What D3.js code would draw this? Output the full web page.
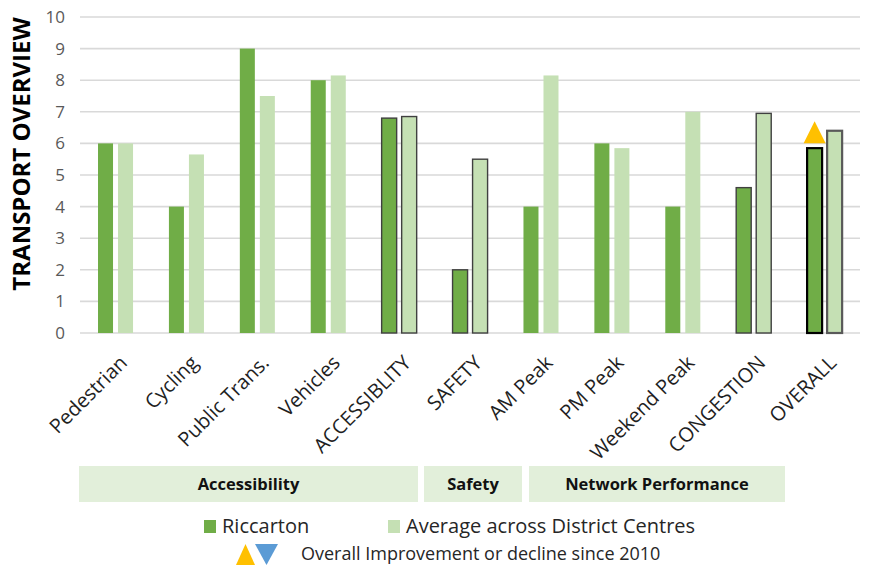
<!DOCTYPE html>
<html>
<head>
<meta charset="utf-8">
<script src="https://cdn.jsdelivr.net/npm/d3@7"></script>
<style>
  body { margin: 0; background: #fff; }
  svg { display: block; font-family: 'Open Sans', sans-serif; }
</style>
</head>
<body>
<svg id="chart" width="870" height="567"></svg>
<script>
var categories = ['Pedestrian', 'Cycling', 'Public Trans.', 'Vehicles', 'ACCESSIBLITY',
  'SAFETY', 'AM Peak', 'PM Peak', 'Weekend Peak', 'CONGESTION', 'OVERALL']
var riccarton = [6, 4, 9, 8, 6.8, 2, 4, 6, 4, 4.6, 5.85]
var districtAvg = [6, 5.65, 7.5, 8.15, 6.85, 5.5, 8.15, 5.85, 7, 6.95, 6.4]
var seriesNames = ['Riccarton', 'Average across District Centres']
var yTicks = [0, 1, 2, 3, 4, 5, 6, 7, 8, 9, 10]
// summary bars get an outline
var outlined = ['ACCESSIBLITY', 'SAFETY', 'CONGESTION', 'OVERALL']
var groupNames = ['Accessibility', 'Safety', 'Network Performance']
var improvement = [{category: 'OVERALL', dir: 'up'}]

var colors = {Riccarton: '#70ad47', 'Average across District Centres': '#c5e0b4'}

var svg = d3.select('#chart')
var margin = {left: 80, right: 10, top: 17, bottom: 234}
var width = 870, height = 567

var x0 = d3.scaleBand().domain(categories).range([margin.left, width - margin.right])
var step = x0.bandwidth()
var x1 = d3.scaleBand().domain(seriesNames)
  .range([step * 0.254, step * 0.748]).paddingInner(0.25)
var y = d3.scaleLinear().domain([0, 10]).range([height - margin.bottom, margin.top])

// gridlines
svg.append('g').selectAll('line').data(yTicks).join('line')
  .attr('x1', margin.left).attr('x2', width - margin.right)
  .attr('y1', d => y(d)).attr('y2', d => y(d))
  .attr('stroke', '#d9d9d9').attr('stroke-width', 1.6)

// y tick labels
svg.append('g').selectAll('text').data(yTicks).join('text')
  .attr('x', 65).attr('y', d => y(d)).attr('dy', '0.35em')
  .attr('text-anchor', 'end')
  .attr('fill', '#595959').style('font-size', '17px')
  .text(d => d)

svg.append('text')
  .attr('transform', `translate(30,${(y(0) + y(10)) / 2 - 21}) rotate(-90)`)
  .attr('text-anchor', 'middle')
  .style('font-size', '24px').style('font-weight', 700).attr('fill', '#000')
  .text('TRANSPORT OVERVIEW')

var rows = categories.map((c, i) => ({
  category: c,
  values: [{key: seriesNames[0], value: riccarton[i]}, {key: seriesNames[1], value: districtAvg[i]}]
}))

var groups = svg.append('g').selectAll('g').data(rows).join('g')
  .attr('transform', d => `translate(${x0(d.category)},0)`)

groups.selectAll('rect').data(d => d.values.map(v => Object.assign({category: d.category}, v))).join('rect')
  .attr('x', d => x1(d.key))
  .attr('width', x1.bandwidth())
  .attr('y', d => y(d.value))
  .attr('height', d => y(0) - y(d.value))
  .attr('fill', d => colors[d.key])
  .attr('stroke', d => {
    if (!outlined.includes(d.category)) return 'none'
    if (d.category == 'OVERALL') return d.key == 'Riccarton' ? '#000' : '#595959'
    return '#404040'
  })
  .attr('stroke-width', d => d.category == 'OVERALL' ? 2.2 : 1.4)

// improvement marker
improvement.forEach(m => {
  var i = categories.indexOf(m.category)
  var cx = x0(m.category) + x1('Riccarton') + x1.bandwidth() / 2
  var base = y(riccarton[i]) - 5
  svg.append('path')
    .attr('d', `M${cx - 11},${base} L${cx + 11},${base} L${cx},${base - 22} Z`)
    .attr('fill', '#ffc000')
})

// x labels
svg.append('g').selectAll('text').data(categories).join('text')
  .attr('transform', d => `translate(${x0(d) + step / 2 + 3},${y(0) + 21}) rotate(-45)`)
  .attr('text-anchor', 'end')
  .attr('dy', '0.71em')
  .attr('fill', '#1f1f1f').style('font-size', '20px')
  .text(d => d)

// group boxes under the axis (layout of the table cells)
var groupBoxes = [[79, 418], [424, 522], [529, 785]]
var boxSel = svg.append('g').selectAll('g').data(groupNames).join('g')
boxSel.append('rect')
  .attr('x', (d, i) => groupBoxes[i][0]).attr('width', (d, i) => groupBoxes[i][1] - groupBoxes[i][0])
  .attr('y', 466).attr('height', 36)
  .attr('fill', '#e2efda')
boxSel.append('text')
  .attr('x', (d, i) => (groupBoxes[i][0] + groupBoxes[i][1]) / 2).attr('y', 484)
  .attr('dy', '0.35em').attr('text-anchor', 'middle')
  .style('font-size', '16.5px').style('font-weight', 700).attr('fill', '#111')
  .text(d => d)

// legend
var legX = [204, 388]
var leg = svg.append('g').selectAll('g').data(seriesNames).join('g')
  .attr('transform', (d, i) => `translate(${legX[i]},520)`)
leg.append('rect').attr('width', 12).attr('height', 13).attr('fill', d => colors[d])
leg.append('text').attr('x', 18).attr('y', 13)
  .style('font-size', '20px').attr('fill', '#262626').text(d => d)

var tri = svg.append('g').attr('transform', 'translate(236,544)')
tri.append('path').attr('d', 'M0,21 L19,21 L9.5,0 Z').attr('fill', '#ffc000')
tri.append('path').attr('d', 'M19,0 L42,0 L30.5,21 Z').attr('fill', '#5b9bd5')
svg.append('text').attr('x', 301).attr('y', 560)
  .style('font-size', '18px').attr('fill', '#262626')
  .text('Overall Improvement or decline since 2010')
</script>
</body>
</html>
